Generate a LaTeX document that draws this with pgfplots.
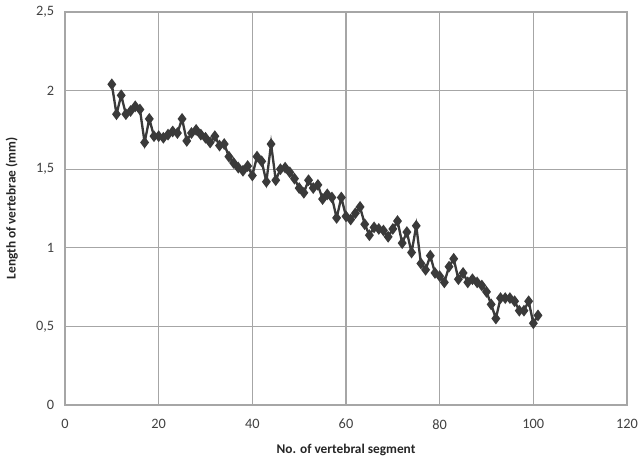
\documentclass[border=0pt]{standalone}
\usepackage{fontspec}
\setmainfont{Carlito}
\usepackage{pgfplots}
\pgfplotsset{compat=1.18}
\definecolor{ser}{HTML}{3A3A3A}
\definecolor{gridc}{HTML}{A6A6A6}
\begin{document}
\begin{tikzpicture}
\useasboundingbox (-39pt,-34.8pt) rectangle (344.4pt,243pt);
\begin{axis}[
  at={(0,0)}, anchor=south west,
  scale only axis, width=337.2pt, height=235.8pt,
  xmin=0, xmax=120, ymin=0, ymax=2.5,
  xtick={0,20,...,120}, ytick={0,0.5,1,1.5,2,2.5},
  grid=major, major grid style={gridc, line width=0.7pt},
  axis line style={gridc, line width=0.7pt},
  major tick length=0pt,
  tick label style={font=\fontsize{8.6}{10}\selectfont, text=black!75},
  /pgf/number format/.cd, use comma, assume math mode=true, /pgfplots/.cd,
  yticklabel style={/pgf/number format/fixed},
  xticklabel style={yshift=-5pt},
  yticklabel style={xshift=-3pt},
  xlabel={\textbf{No. of vertebral segment}},
  ylabel={\textbf{Length of vertebrae (mm)}},
  label style={font=\fontsize{8}{10}\selectfont, text=black!85},
  xlabel style={yshift=-2pt},
  ylabel style={yshift=4pt},
]
\addplot[color=ser, line width=1.4pt, mark=diamond*, mark size=2.4pt, mark options={fill=ser, solid}] coordinates {
(10,2.04)(11,1.85)(12,1.97)(13,1.85)(14,1.87)(15,1.90)(16,1.88)(17,1.67)(18,1.82)(19,1.71)
(20,1.71)(21,1.70)(22,1.72)(23,1.74)(24,1.73)(25,1.82)(26,1.68)(27,1.73)(28,1.75)(29,1.72)
(30,1.70)(31,1.67)(32,1.71)(33,1.65)(34,1.66)(35,1.58)(36,1.54)(37,1.51)(38,1.49)(39,1.52)
(40,1.46)(41,1.58)(42,1.55)(43,1.42)(44,1.66)(45,1.43)(46,1.50)(47,1.51)(48,1.48)(49,1.44)
(50,1.38)(51,1.35)(52,1.43)(53,1.38)(54,1.40)(55,1.31)(56,1.34)(57,1.32)(58,1.19)(59,1.32)
(60,1.20)(61,1.18)(62,1.22)(63,1.26)(64,1.15)(65,1.08)(66,1.13)(67,1.12)(68,1.11)(69,1.07)
(70,1.12)(71,1.17)(72,1.03)(73,1.10)(74,0.97)(75,1.14)(76,0.90)(77,0.86)(78,0.95)(79,0.84)
(80,0.82)(81,0.78)(82,0.88)(83,0.93)(84,0.80)(85,0.84)(86,0.78)(87,0.80)(88,0.78)(89,0.76)
(90,0.72)(91,0.64)(92,0.55)(93,0.68)(94,0.68)(95,0.68)(96,0.66)(97,0.60)(98,0.60)(99,0.66)
(100,0.52)(101,0.57)
};
\end{axis}
\end{tikzpicture}
\end{document}
